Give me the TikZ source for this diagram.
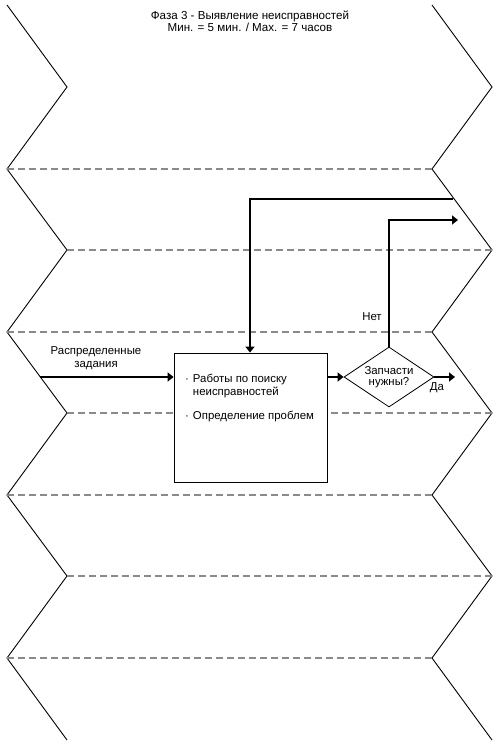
\documentclass[tikz,border=0pt]{standalone}
\usepackage{fontspec}
\setmainfont{Liberation Sans}
\usetikzlibrary{arrows.meta,shapes.geometric}
\definecolor{ink}{HTML}{000000}
\definecolor{lanegray}{HTML}{8A8A8A}
\tikzset{
  lane edge/.style={
    draw=ink,
    line width=0.9pt,
    line join=miter
  },
  lane split/.style={
    draw=lanegray,
    line width=1.1pt,
    dash pattern=on 7pt off 4pt
  },
  task/.style={
    draw=ink,
    fill=white,
    line width=0.8pt,
    minimum width=153pt,
    minimum height=129pt,
    inner sep=0pt
  },
  decision/.style={
    diamond,
    draw=ink,
    fill=white,
    line width=0.8pt,
    aspect=1.5,
    minimum width=90pt,
    minimum height=60pt,
    inner sep=0pt,
    align=center,
    font=\fontsize{11.4}{11}\selectfont
  },
  flow/.style={-{Triangle[length=6pt,width=9pt]},line width=1.8pt,draw=ink},
  flow label/.style={
    inner sep=0pt,
    align=center,
    font=\fontsize{11.4}{13}\selectfont
  }
}

\begin{document}
\begin{tikzpicture}[x=1pt,y=-1pt]
  \useasboundingbox (0,0) rectangle (500,747);

  \node[flow label,font=\fontsize{11.6}{12}\selectfont] (title) at (250,21)
    {Фаза 3 - Выявление неисправностей\\Мин. = 5 мин. / Max. = 7 часов};

  % lane borders
  \draw[lane edge] (7,5) -- (67,87) -- (7,169) -- (67,250) -- (7,332)
    -- (67,413) -- (7,495) -- (67,576) -- (7,658) -- (67,740);
  \draw[lane edge] (432,5) -- (492,87) -- (432,169) -- (492,250) -- (432,332)
    -- (492,413) -- (432,495) -- (492,576) -- (432,658) -- (492,740);

  \draw[lane split] (7,169) -- (432,169);
  \draw[lane split] (67,250) -- (492,250);
  \draw[lane split] (7,332) -- (432,332);
  \draw[lane split] (67,413) -- (492,413);
  \draw[lane split] (7,495) -- (432,495);
  \draw[lane split] (67,576) -- (492,576);
  \draw[lane split] (7,658) -- (432,658);

  \node[task] (work) at (250.5,417.5) {};
  \node[flow label,anchor=base west] (worklist) at (185,382)
    {\begin{tabular}[t]{@{}c@{\hspace{4pt}}l@{}}
      · & Работы по поиску\\
        & неисправностей\\[11pt]
      · & Определение проблем
    \end{tabular}};
  \node[decision] (parts) at (389,377) {Запчасти\\нужны?};

  \coordinate (intake) at (40,377);
  \coordinate (loopstart) at (453,199);
  \coordinate (loopturn) at (250,199);
  \coordinate (noturn) at (389,220);
  \coordinate (noend) at (458,220);
  \coordinate (yesend) at (455,377);

  \node[flow label] (intakelabel) at (96,358) {Распределенные\\задания};
  \node[flow label] (nolabel) at (372,317) {Нет};
  \node[flow label] (yeslabel) at (437,388) {Да};

  \draw[flow] (intake) -- (intake -| work.west);
  \draw[flow] (work.east |- parts) -- (parts.west);
  \draw[flow] (parts.east) -- (yesend);
  \draw[flow] (parts.north) -- (noturn) -- (noend);
  \draw[flow] (loopstart) -- (loopturn) -- (loopturn |- work.north);
\end{tikzpicture}
\end{document}
